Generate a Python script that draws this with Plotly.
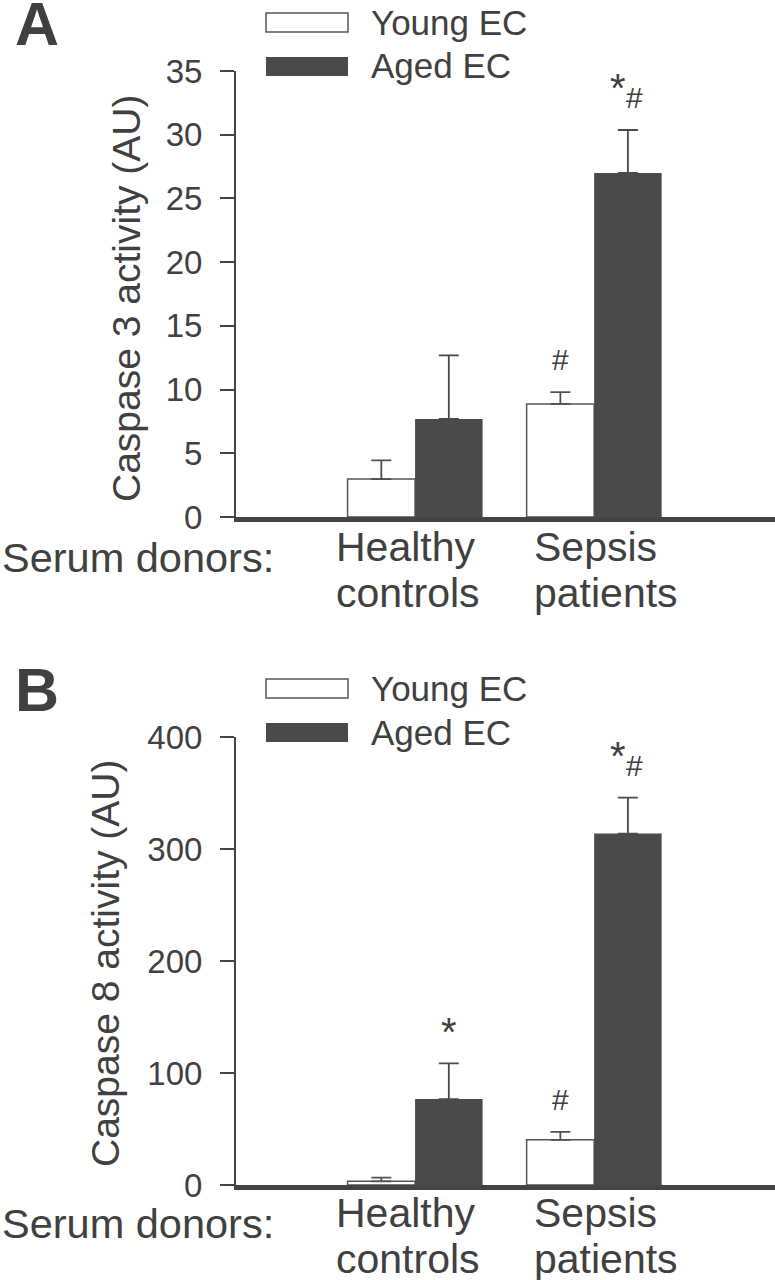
import plotly.graph_objects as go

# ---------------- data ----------------
categories = ["Healthy controls", "Sepsis patients"]
series_names = ["Young EC", "Aged EC"]

a_young = [2.98, 8.87]
a_young_err = [1.47, 0.93]
a_aged = [7.69, 27.0]
a_aged_err = [5.0, 3.37]
a_young_sig = ["", "#"]
a_aged_sig = ["", "*#"]

b_young = [3.3, 40.3]
b_young_err = [3.2, 7.2]
b_aged = [76.7, 313.8]
b_aged_err = [31.9, 32.0]
b_young_sig = ["", "#"]
b_aged_sig = ["*", "*#"]

a_ticks = [0, 5, 10, 15, 20, 25, 30, 35]
b_ticks = [0, 100, 200, 300, 400]
a_title = "Caspase 3 activity (AU)"
b_title = "Caspase 8 activity (AU)"
x_title = "Serum donors:"
panel_letters = ["A", "B"]

# ---------------- style ----------------
W, H = 775, 1280
FONT = "Liberation Sans, Arial, Helvetica, sans-serif"
INK = "#404040"
DARK = "#4a4a4c"
AX = "#444444"

def fx(px):
    return px / W

def fy(py):
    return 1 - py / H

PLOT_L = 236
PANEL_OFF = 666
A_TOP, A_BOT = 71, 517

fig = go.Figure()

panels = [
    dict(xa="x", ya="y", young=a_young, ye=a_young_err, aged=a_aged, ae=a_aged_err,
         ysig=a_young_sig, asig=a_aged_sig, ticks=a_ticks, title=a_title, off=0,
         title_x=126),
    dict(xa="x2", ya="y2", young=b_young, ye=b_young_err, aged=b_aged, ae=b_aged_err,
         ysig=b_young_sig, asig=b_aged_sig, ticks=b_ticks, title=b_title, off=PANEL_OFF,
         title_x=105),
]

xpos = [1, 2]
annotations = []
shapes = []

for i, p in enumerate(panels):
    fig.add_trace(go.Bar(
        x=xpos, y=p["young"], name=series_names[0], xaxis=p["xa"], yaxis=p["ya"],
        marker=dict(color="white", line=dict(color="#555555", width=1.5)),
        error_y=dict(type="data", symmetric=False, array=p["ye"],
                     arrayminus=[0] * len(p["ye"]), color="#505050", thickness=1.8,
                     width=10),
        showlegend=False,
    ))
    fig.add_trace(go.Bar(
        x=xpos, y=p["aged"], name=series_names[1], xaxis=p["xa"], yaxis=p["ya"],
        marker=dict(color=DARK, line=dict(color=DARK, width=0)),
        error_y=dict(type="data", symmetric=False, array=p["ae"],
                     arrayminus=[0] * len(p["ae"]), color=DARK, thickness=1.8, width=10),
        showlegend=False,
    ))

    # significance markers
    for vals, errs, sigs, dx in [(p["young"], p["ye"], p["ysig"], -33.75),
                                 (p["aged"], p["ae"], p["asig"], 33.75)]:
        for k, s in enumerate(sigs):
            if not s:
                continue
            top = vals[k] + errs[k]
            if "*" in s and "#" in s:
                annotations.append(dict(x=xpos[k], y=top, xref=p["xa"], yref=p["ya"],
                                        text="*", showarrow=False, yanchor="bottom",
                                        xshift=dx - 10, yshift=18,
                                        font=dict(family=FONT, size=40, color=INK)))
                annotations.append(dict(x=xpos[k], y=top, xref=p["xa"], yref=p["ya"],
                                        text="#", showarrow=False, yanchor="bottom",
                                        xshift=dx + 7, yshift=14,
                                        font=dict(family=FONT, size=30, color=INK)))
            elif s == "*":
                annotations.append(dict(x=xpos[k], y=top, xref=p["xa"], yref=p["ya"],
                                        text="*", showarrow=False, yanchor="bottom",
                                        xshift=dx, yshift=7,
                                        font=dict(family=FONT, size=40, color=INK)))
            else:
                annotations.append(dict(x=xpos[k], y=top, xref=p["xa"], yref=p["ya"],
                                        text="#", showarrow=False, yanchor="bottom",
                                        xshift=dx, yshift=14,
                                        font=dict(family=FONT, size=30, color=INK)))

    off = p["off"]
    # y title
    annotations.append(dict(x=fx(p["title_x"]), y=fy((A_TOP + A_BOT) / 2 + 4 + off),
                            xref="paper", yref="paper", text=p["title"], textangle=-90,
                            showarrow=False, xanchor="center", yanchor="middle",
                            font=dict(family=FONT, size=39, color=INK)))
    # panel letter
    annotations.append(dict(x=fx(13), y=fy(24 + off), xref="paper", yref="paper",
                            text="<b>%s</b>" % panel_letters[i], showarrow=False,
                            xanchor="left", yanchor="middle",
                            font=dict(family=FONT, size=61, color=INK)))
    # legend swatches + labels
    shapes.append(dict(type="rect", xref="paper", yref="paper",
                       x0=fx(266), x1=fx(348), y0=fy(32 + off), y1=fy(13 + off),
                       fillcolor="white", line=dict(color="#555555", width=1.5)))
    shapes.append(dict(type="rect", xref="paper", yref="paper",
                       x0=fx(266), x1=fx(348), y0=fy(76 + off), y1=fy(57 + off),
                       fillcolor=DARK, line=dict(color=DARK, width=0)))
    for name, cy in zip(series_names, [22, 66]):
        annotations.append(dict(x=fx(369), y=fy(cy + off), xref="paper", yref="paper",
                                text=name, showarrow=False, xanchor="left",
                                yanchor="middle",
                                font=dict(family=FONT, size=35, color=INK)))
    # x label
    annotations.append(dict(x=fx(0), y=fy(557 + off), xref="paper", yref="paper",
                            text=x_title, showarrow=False, xanchor="left",
                            yanchor="middle",
                            font=dict(family=FONT, size=41.5, color=INK)))
    # category labels (two lines each)
    for k, cat in enumerate(categories):
        words = cat.split(" ")
        for j, w in enumerate(words):
            annotations.append(dict(x=xpos[k], y=fy(547 + 46 * j + off), xref=p["xa"],
                                    yref="paper", text=w, showarrow=False,
                                    xanchor="left", yanchor="middle",
                                    xshift=[-81, -62][k],
                                    font=dict(family=FONT, size=41, color=INK)))

xdom = [fx(PLOT_L), 1.0]
common_x = dict(domain=xdom, range=[0, 3.01], showline=True, linewidth=5, linecolor=AX,
                showticklabels=False, ticks="", showgrid=False, zeroline=False,
                fixedrange=True, automargin=False)
common_y = dict(showline=True, linewidth=2, linecolor=AX, ticks="outside", ticklen=14,
                tickwidth=2, tickcolor=AX, showgrid=False, zeroline=False,
                tickfont=dict(family=FONT, size=33, color=INK), ticklabelstandoff=11,
                automargin=False, fixedrange=True)

fig.update_layout(
    template="none",
    width=W, height=H, autosize=False,
    margin=dict(l=0, r=0, t=0, b=0, pad=0, autoexpand=False),
    paper_bgcolor="white", plot_bgcolor="white",
    barmode="group", bargap=0.246, bargroupgap=0,
    xaxis=dict(**common_x, anchor="y"),
    xaxis2=dict(**common_x, anchor="y2"),
    yaxis=dict(**common_y, anchor="x", domain=[fy(A_BOT), fy(A_TOP)], range=[0, 35],
               tickvals=a_ticks),
    yaxis2=dict(**common_y, anchor="x2",
                domain=[fy(A_BOT + PANEL_OFF + 2), fy(A_TOP + PANEL_OFF)], range=[0, 400],
                tickvals=b_ticks),
    annotations=annotations,
    shapes=shapes,
)

fig.write_html("out.html", config={"displayModeBar": False},
               post_script="document.body.style.margin='0';")
